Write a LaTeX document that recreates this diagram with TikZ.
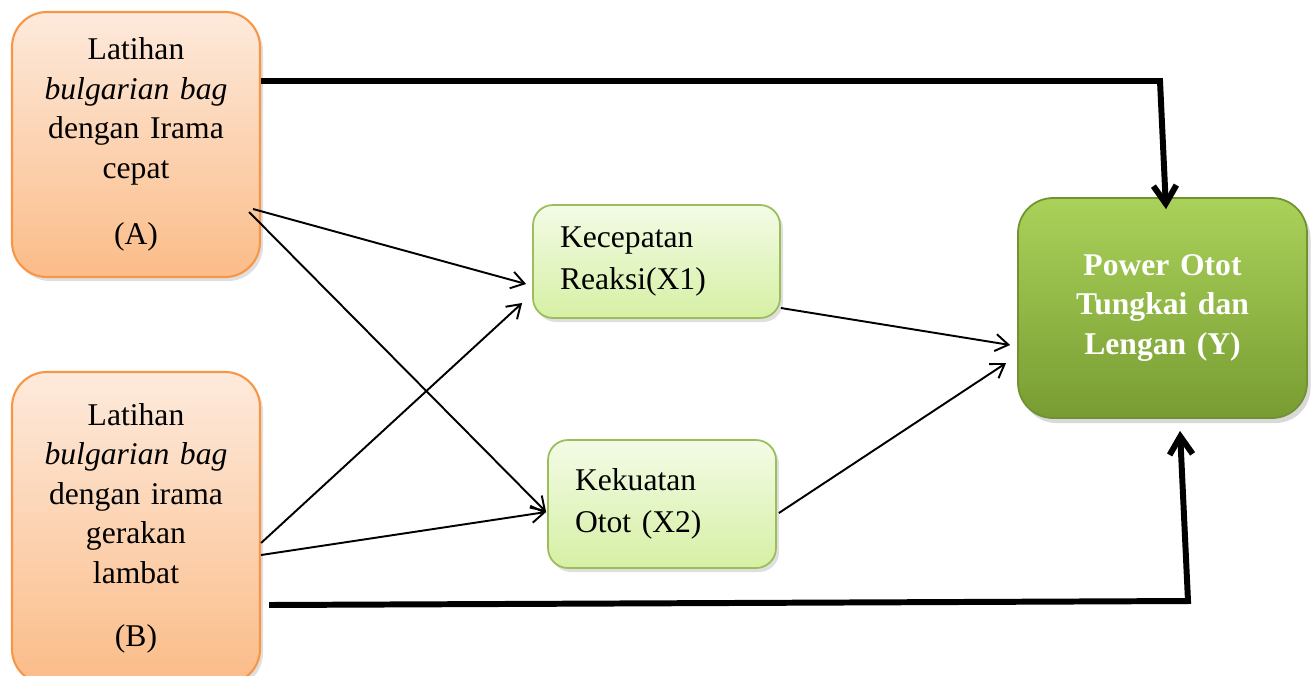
\documentclass[tikz,border=0pt]{standalone}
\usepackage{fontspec}
\setmainfont{Liberation Serif}
\usetikzlibrary{arrows.meta,shadows}

\definecolor{orangeline}{RGB}{247,150,70}
\definecolor{orangetop}{RGB}{253,234,220}
\definecolor{orangebot}{RGB}{251,188,136}
\definecolor{limeline}{RGB}{155,190,90}
\definecolor{limetop}{RGB}{243,251,230}
\definecolor{limebot}{RGB}{214,240,164}
\definecolor{greenline}{RGB}{112,146,48}
\definecolor{greentop}{RGB}{170,210,90}
\definecolor{greenbot}{RGB}{120,156,50}

\begin{document}
\begin{tikzpicture}[
    treatbox/.style={draw=orangeline,line width=1.2pt,rounded corners=0.7cm,
      top color=orangetop,bottom color=orangebot,minimum width=4.96cm,
      text width=4.6cm,align=center,inner sep=0pt,
      font=\fontsize{18}{22.5}\selectfont,
      drop shadow={shadow xshift=0.06cm,shadow yshift=-0.08cm,opacity=0.25}},
    varbox/.style={draw=limeline,line width=1pt,rounded corners=0.4cm,
      top color=limetop,bottom color=limebot,align=left,
      inner ysep=0pt,inner xsep=0.54cm,
      font=\fontsize{18}{24}\selectfont,
      drop shadow={shadow xshift=0.06cm,shadow yshift=-0.08cm,opacity=0.25}},
    resultbox/.style={draw=greenline,line width=1pt,rounded corners=0.7cm,
      top color=greentop,bottom color=greenbot,minimum width=5.78cm,
      minimum height=4.4cm,text width=5.4cm,align=center,inner sep=0pt,
      text=white,font=\fontsize{18}{22.7}\selectfont\bfseries,
      drop shadow={shadow xshift=0.07cm,shadow yshift=-0.1cm,opacity=0.3}},
    thin/.style={line width=1.1pt,-{Straight Barb[length=2.6mm,width=3.4mm]}},
    thick/.style={line width=3.4pt,line join=miter,
      -{Straight Barb[length=3.6mm,width=4.6mm]}}
  ]
      \useasboundingbox (0,0) rectangle (26.3,-13.5);
      \node[treatbox,minimum height=5.3cm] (A) at (2.72,-2.89)
        {Latihan\\ \textit{bulgarian bag}\\ dengan Irama\\ cepat\\[0.53cm] (A)};
      \node[treatbox,minimum height=6.24cm,below of=A,yshift=-6.67cm] (B)
        {Latihan\\ \textit{bulgarian bag}\\ dengan irama\\ gerakan\\ lambat\\[0.47cm] (B)};
      \node[varbox,minimum width=4.94cm,minimum height=2.26cm,text width=3.86cm,
        right of=A,xshift=9.41cm,yshift=-2.34cm] (X1) {Kecepatan\\ Reaksi(X1)};
      \node[varbox,minimum width=4.56cm,minimum height=2.56cm,text width=3.48cm,
        below of=X1,xshift=0.11cm,yshift=-3.85cm] (X2) {Kekuatan\\ Otot (X2)};
      \node[resultbox,right of=X1,xshift=9.12cm,yshift=-0.93cm] (Y)
        {Power Otot\\ Tungkai dan\\ Lengan (Y)};
      \coordinate (top) at (23.2,-1.62);
      \coordinate (bottom) at (23.76,-12.02);
      %% Thin arrows to the variables
      \draw[thin] ([xshift=-0.16cm,yshift=-1.29cm]A.east) -- ([xshift=-0.12cm,yshift=-0.45cm]X1.west);
      \draw[thin] ([xshift=-0.24cm,yshift=-1.35cm]A.east) -- ([xshift=-0.02cm,yshift=-0.16cm]X2.west);
      \draw[thin] ([yshift=-0.3cm]B.east) -- ([xshift=-0.2cm,yshift=-0.83cm]X1.west);
      \draw[thin] ([yshift=-0.54cm]B.east) -- ([xshift=-0.02cm,yshift=-0.16cm]X2.west);
      \draw[thin] ([yshift=-0.93cm]X1.east) -- ([xshift=-0.14cm,yshift=-0.74cm]Y.west);
      \draw[thin] ([xshift=0.04cm,yshift=-0.18cm]X2.east) -- ([xshift=-0.22cm,yshift=-1.1cm]Y.west);
      %% Thick arrows straight to Y
      \draw[thick] ([yshift=1.27cm]A.east) -- (top) -- ([xshift=0.07cm,yshift=-0.24cm]Y.north);
      \draw[thick] ([xshift=0.16cm,yshift=-1.54cm]B.east) -- (bottom) -- ([xshift=0.35cm,yshift=-0.24cm]Y.south);
\end{tikzpicture}
\end{document}
